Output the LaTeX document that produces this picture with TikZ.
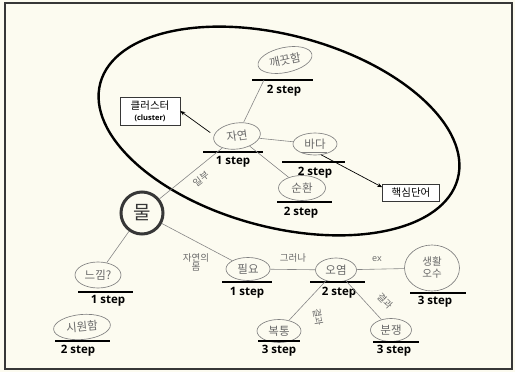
\documentclass[tikz,border=0pt]{standalone}
\usepackage{fontspec}
\setmainfont{Open Sans}[BoldFont={Open Sans Bold}]
\newfontfamily\kr{Noto Sans CJK KR}
\usetikzlibrary{shapes.geometric,arrows.meta}
\definecolor{paper}{RGB}{252,251,240}
\definecolor{pencil}{RGB}{105,105,105}
\definecolor{rim}{RGB}{55,55,55}
\tikzset{
  hand/.style={ellipse, draw=pencil!85, line width=0.65pt, inner sep=0pt,
    text=pencil, font=\kr\fontsize{11.5}{12}\selectfont},
  steplbl/.style={font=\bfseries\fontsize{11.5}{12}\selectfont, text=black, inner sep=0pt},
  uline/.style={line width=1.3pt, black},
  conn/.style={draw=pencil!80, line width=0.6pt},
  lbl/.style={text=pencil, font=\kr\fontsize{9.5}{10}\selectfont, inner sep=0pt, align=center},
  arr/.style={draw=black, line width=0.7pt, -{Stealth[length=5pt,width=4pt]}},
  tagbox/.style={draw=rim, line width=0.6pt, fill=white, inner sep=2pt, align=center}
}
\begin{document}
\begin{tikzpicture}[x=1pt,y=-1pt]
\useasboundingbox (0,0) rectangle (515,372);
\fill[paper] (0,0) rectangle (515,372);
\draw[rim, line width=1.4pt] (5,3) rectangle (512,369);

% the cluster around the first step
\draw[black, line width=2.4pt, rotate around={-15:(279,131)}]
  (279,131) ellipse [x radius=185pt, y radius=96pt];

% central word
\node[circle, draw=rim, line width=3pt, minimum size=42pt, inner sep=0pt,
      text=rim, font=\kr\fontsize{19}{19}\selectfont] (mul) at (142,213) {물};

% handwritten word bubbles
\node[hand, minimum width=55pt, minimum height=25pt, rotate=12] (clean) at (285,60) {깨끗함};
\node[hand, minimum width=47pt, minimum height=26pt, rotate=8] (nature) at (237,136) {자연};
\node[hand, minimum width=44pt, minimum height=22pt] (sea) at (315,144) {바다};
\node[hand, minimum width=47pt, minimum height=25pt] (cycle) at (302,188) {순환};
\node[hand, minimum width=46pt, minimum height=26pt] (feel) at (98,275) {느낌?};
\node[hand, minimum width=57pt, minimum height=25pt, rotate=5] (cool) at (82,327) {시원함};
\node[hand, minimum width=44pt, minimum height=23pt] (need) at (248,269) {필요};
\node[hand, minimum width=41pt, minimum height=24pt] (pollution) at (336,270) {오염};
\node[hand, minimum width=55pt, minimum height=46pt, align=center,
      font=\kr\fontsize{10.5}{12}\selectfont] (sewage) at (432,268) {생활\\오수};
\node[hand, minimum width=44pt, minimum height=23pt] (stomach) at (279,331) {복통};
\node[hand, minimum width=41pt, minimum height=23pt] (conflict) at (391,330) {분쟁};
\draw[pencil!85, line width=0.6pt] (301,152) -- (327,152);

% step labels with their base lines
\draw[uline] (252,80) -- (313,80);
\node[steplbl] (clean-s) at (284,91) {2 step};
\draw[uline] (203,152) -- (263,152);
\node[steplbl] (nature-s) at (233,162) {1 step};
\draw[uline] (282,162) -- (345,162);
\node[steplbl] (sea-s) at (315,173) {2 step};
\draw[uline] (277,202) -- (332,202);
\node[steplbl] (cycle-s) at (301,213) {2 step};
\draw[uline] (78,292) -- (133,292);
\node[steplbl] (feel-s) at (108,301) {1 step};
\draw[uline] (55,341) -- (110,341);
\node[steplbl] (cool-s) at (78,351) {2 step};
\draw[uline] (222,282) -- (272,282);
\node[steplbl] (need-s) at (247,293) {1 step};
\draw[uline] (310,282) -- (365,282);
\node[steplbl] (pollution-s) at (339,293) {2 step};
\draw[uline] (410,293) -- (466,293);
\node[steplbl] (sewage-s) at (435,302) {3 step};
\draw[uline] (258,341) -- (300,341);
\node[steplbl] (stomach-s) at (279,351) {3 step};
\draw[uline] (373,342) -- (419,342);
\node[steplbl] (conflict-s) at (394,351) {3 step};

% boxed notes
\node[tagbox, minimum width=60pt, minimum height=28pt] (cluster) at (150,111)
  {{\kr\fontsize{10.5}{12}\selectfont 클러스터}\\[-1pt]{\bfseries\fontsize{7.5}{8}\selectfont (cluster)}};
\node[tagbox, minimum width=57pt, minimum height=17pt,
      font=\kr\fontsize{10.5}{12}\selectfont] (core) at (411,193) {핵심단어};

% connectors
\coordinate (cleanbase) at (264,80);
\draw[conn] (mul) -- (nature);
\draw[conn] (nature) -- (cleanbase);
\draw[conn] (nature) -- (sea);
\draw[conn] (nature) -- (cycle);
\draw[conn] (mul) -- (feel);
\draw[conn] (mul) -- (need);
\draw[conn] (need) -- (pollution);
\draw[conn] (pollution) -- (sewage);
\draw[conn] (pollution) -- (stomach);
\draw[conn] (pollution) -- (conflict);
\draw[arr] ([shift={(-6pt,-1pt)}]nature.160) -- (cluster.east);
\draw[arr] (sea.-60) -- ([yshift=-3pt]core.north west);

% connector words
\node[lbl, rotate=38] (w1) at (201,179) {일부};
\node[lbl] (w2) at (196,262) {자연의\\[-1pt]몸};
\node[lbl] (w3) at (293,258) {그러나};
\node[lbl, font=\fontsize{9}{9}\selectfont] (w4) at (377,259) {ex};
\node[lbl, rotate=-80] (w5) at (318,317) {결과};
\node[lbl, rotate=-45] (w6) at (385,301) {결과};
\end{tikzpicture}
\end{document}
